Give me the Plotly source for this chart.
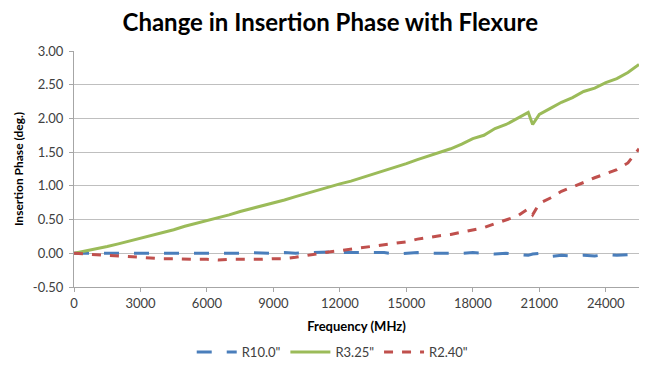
import plotly.graph_objects as go

freq = [0, 500, 1000, 1500, 2000, 2500, 3000, 3500, 4000, 4500,
        5000, 5500, 6000, 6500, 7000, 7500, 8000, 8500, 9000, 9500,
        10000, 10500, 11000, 11500, 12000, 12500, 13000, 13500, 14000, 14500,
        15000, 15500, 16000, 16500, 17000, 17500, 18000, 18500, 19000, 19500,
        20000, 20500, 20700, 21000, 21500, 22000, 22500, 23000, 23500, 24000,
        24500, 25000, 25500]

r10 = [0.00, 0.00, -0.01, 0.00, 0.00, -0.01, 0.00, 0.00, 0.00, -0.01,
       0.00, 0.00, 0.00, -0.01, 0.00, 0.00, 0.01, 0.00, 0.00, 0.01,
       0.00, 0.01, 0.02, 0.02, 0.01, 0.01, 0.00, 0.00, 0.01, -0.01,
       0.00, 0.01, 0.00, 0.00, -0.01, 0.00, 0.01, 0.00, -0.01, 0.00,
       -0.02, -0.03, -0.01, 0.00, -0.05, -0.03, -0.04, -0.03, -0.04, -0.02,
       -0.03, -0.02, -0.03]

r325 = [0.00, 0.03, 0.06, 0.10, 0.14, 0.18, 0.22, 0.26, 0.31, 0.35,
        0.40, 0.44, 0.49, 0.53, 0.57, 0.62, 0.66, 0.71, 0.75, 0.79,
        0.84, 0.89, 0.93, 0.98, 1.03, 1.07, 1.12, 1.17, 1.22, 1.28,
        1.33, 1.39, 1.44, 1.50, 1.55, 1.62, 1.70, 1.75, 1.85, 1.91,
        2.00, 2.09, 1.91, 2.06, 2.15, 2.24, 2.31, 2.40, 2.45, 2.53,
        2.59, 2.68, 2.80]

r240 = [0.00, -0.01, -0.02, -0.03, -0.05, -0.06, -0.06, -0.07, -0.08, -0.08,
        -0.09, -0.09, -0.09, -0.10, -0.09, -0.09, -0.10, -0.09, -0.08, -0.08,
        -0.06, -0.03, 0.00, 0.02, 0.04, 0.06, 0.08, 0.10, 0.12, 0.14,
        0.17, 0.21, 0.24, 0.26, 0.28, 0.31, 0.34, 0.38, 0.44, 0.50,
        0.55, 0.66, 0.57, 0.74, 0.82, 0.92, 0.98, 1.05, 1.12, 1.18,
        1.24, 1.34, 1.55]

series = [
    ("R10.0\"", r10, "#4A7EBB", "longdash"),
    ("R3.25\"", r325, "#9BBB59", "solid"),
    ("R2.40\"", r240, "#C0504D", "dash"),
]

fig = go.Figure()
for name, vals, color, dash in series:
    fig.add_trace(go.Scatter(x=freq, y=vals, mode="lines", name=name,
                             line=dict(color=color, width=3, dash=dash)))

# page body has an 8px default margin, so the figure is drawn 8px smaller
fig.update_layout(
    width=659, height=364,
    margin=dict(l=66, r=28, t=43, b=85, autoexpand=False),
    paper_bgcolor="white", plot_bgcolor="white",
    font=dict(family="Lato, 'Open Sans', sans-serif", color="#404040", size=13),
    title=dict(text="<b>Change in Insertion Phase with Flexure</b>",
               x=0.489, xanchor="center", xref="container",
               y=0.959, yanchor="middle", yref="container",
               font=dict(size=24, color="#000000")),
    legend=dict(orientation="h", x=0.492, xanchor="center", xref="container",
                y=0.055, yanchor="middle", yref="container", itemwidth=40,
                font=dict(size=13, color="#404040")),
    showlegend=True,
)
fig.update_xaxes(
    range=[0, 25500], tickmode="array",
    tickvals=[0, 3000, 6000, 9000, 12000, 15000, 18000, 21000, 24000],
    ticktext=["0", "3000", "6000", "9000", "12000", "15000", "18000", "21000", "24000"],
    tickangle=0,
    showgrid=False, zeroline=False, showline=True, linecolor="#A6A6A6", linewidth=1,
    ticks="outside", ticklen=4, tickcolor="#A6A6A6",
    title=dict(text="<b>Frequency (MHz)</b>", font=dict(size=13, color="#000000"), standoff=12),
)
fig.update_yaxes(
    range=[-0.5, 3.0], tickmode="array",
    tickvals=[-0.5, 0, 0.5, 1.0, 1.5, 2.0, 2.5, 3.0],
    ticktext=["-0.50", "0.00", "0.50", "1.00", "1.50", "2.00", "2.50", "3.00"],
    showgrid=True, gridcolor="#BFBFBF", gridwidth=1, zeroline=False,
    showline=True, linecolor="#A6A6A6", linewidth=1,
    ticks="outside", ticklen=4, tickcolor="#A6A6A6", ticklabelstandoff=3,
    title=dict(text="<b>Insertion Phase (deg.)</b>", font=dict(size=12, color="#000000"), standoff=6),
)

fig.write_html("out.html")
